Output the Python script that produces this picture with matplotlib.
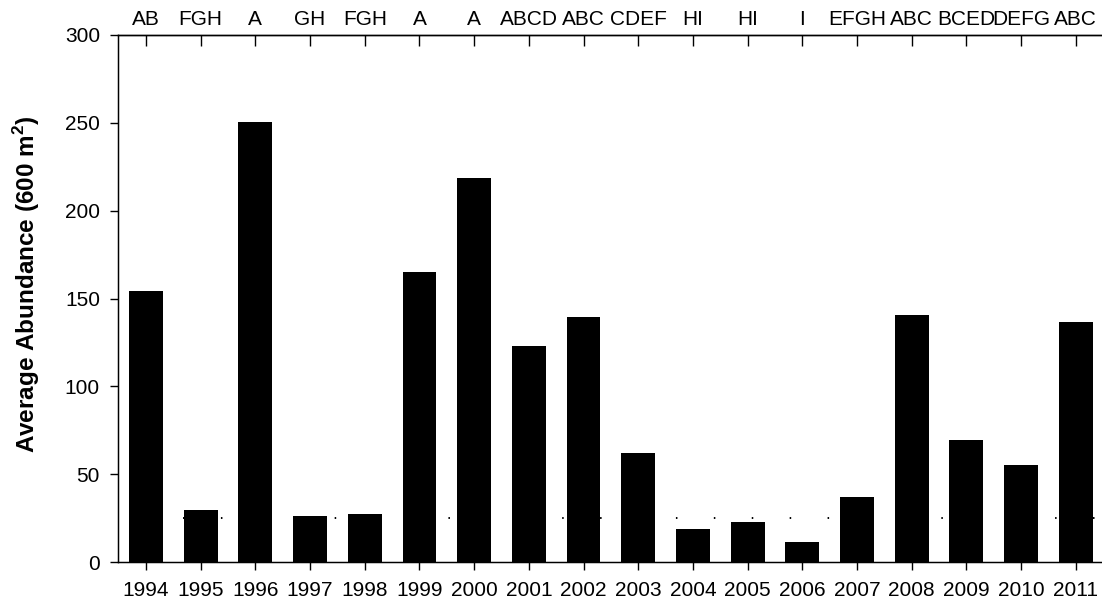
import matplotlib
matplotlib.use("Agg")
import matplotlib.pyplot as plt
import numpy as np

plt.rcParams['font.family'] = ['Liberation Sans', 'DejaVu Sans']
plt.rcParams['mathtext.fontset'] = 'custom'
plt.rcParams['mathtext.rm'] = 'Liberation Sans'
plt.rcParams['mathtext.bf'] = 'Liberation Sans:bold'
plt.rcParams['lines.scale_dashes'] = False

# Abundancia promedio por año y grupos de significancia
anios = ['1994', '1995', '1996', '1997', '1998', '1999', '2000', '2001', '2002',
         '2003', '2004', '2005', '2006', '2007', '2008', '2009', '2010', '2011']
abundancia = [154, 29.5, 250.5, 26, 27.5, 165, 218.5, 123, 139.3,
              62, 19, 23, 11.5, 37, 140.5, 69.5, 55, 136.5]
grupos = ['AB', 'FGH', 'A', 'GH', 'FGH', 'A', 'A', 'ABCD', 'ABC',
          'CDEF', 'HI', 'HI', 'I', 'EFGH', 'ABC', 'BCED', 'DEFG', 'ABC']
nivel_ref = 25

fig = plt.figure(figsize=(11.02, 6.05), dpi=100)
ax = fig.add_axes([118 / 1102, 43 / 605, 984 / 1102, 527 / 605])

x = np.arange(len(anios))
ax.axhline(nivel_ref, color='black', linewidth=1.4, zorder=1,
           linestyle=(7.8, (1.1, 26.2)))
ax.bar(x, abundancia, width=0.62, color='black', zorder=2)

ax.set_xlim(-0.512, 17.48)
ax.set_ylim(0, 300)
ax.set_yticks(np.arange(0, 301, 50))
ax.set_xticks(x)
ax.set_xticklabels(anios)

ax.spines['right'].set_visible(False)
for lado in ['left', 'bottom', 'top']:
    ax.spines[lado].set_linewidth(1.0)

ax.tick_params(axis='x', direction='out', length=6, width=1.0,
               labelsize=15, pad=8)
ax.tick_params(axis='y', direction='out', length=6, width=1.0,
               labelsize=15, pad=7)

# Letras de grupos en el eje superior
ax_top = ax.twiny()
ax_top.set_xlim(ax.get_xlim())
ax_top.set_xticks(x)
ax_top.set_xticklabels(grupos)
ax_top.tick_params(axis='x', direction='in', length=8, width=1.0,
                   labelsize=15, pad=4)
ax_top.spines['right'].set_visible(False)
ax_top.spines['top'].set_linewidth(1.0)

ax.set_ylabel(r'Average Abundance (600 m$^{\mathbf{2}}$)', fontsize=17.5,
              fontweight='bold')
ax.yaxis.set_label_coords(-0.077, 0.527)

fig.savefig('out.png', dpi=100)
